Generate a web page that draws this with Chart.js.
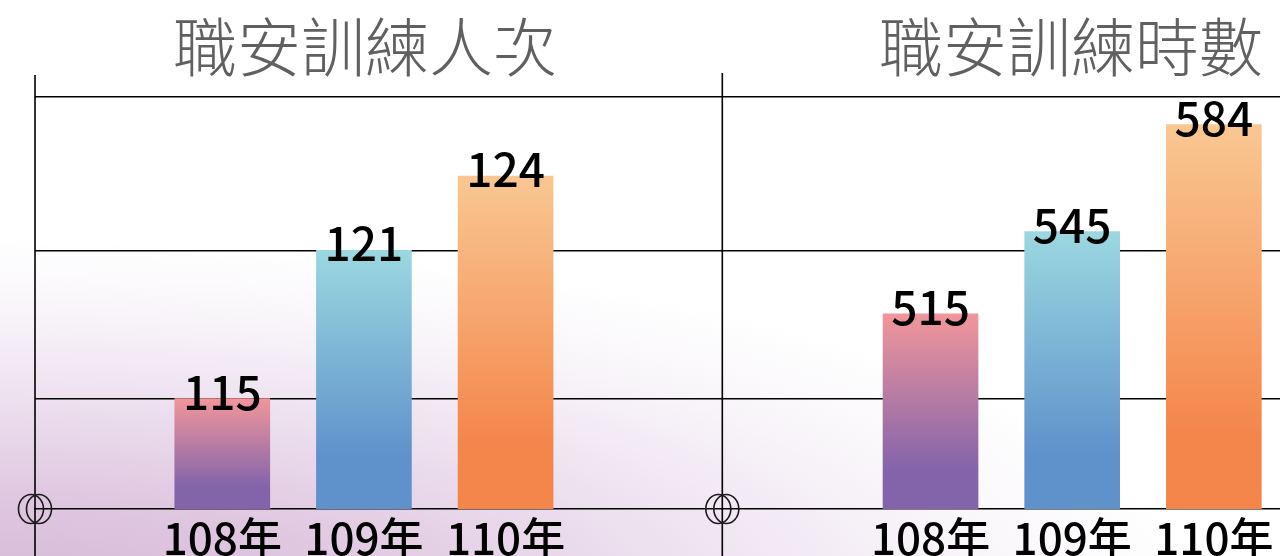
<!DOCTYPE html>
<html lang="zh-Hant">
<head>
<meta charset="utf-8">
<script src="https://cdn.jsdelivr.net/npm/chart.js@4.4.1/dist/chart.umd.min.js"></script>
<style>
  html, body { margin: 0; padding: 0; }
  body {
    width: 1280px;
    height: 556px;
    overflow: hidden;
    position: relative;
    background:
      radial-gradient(ellipse 1200px 360px at 0px 600px, #d6b8d6 0%, #e0c8e1 30%, #eee2f0 58%, #f9f6fa 82%, rgba(255, 255, 255, 0) 100%),
      #ffffff;
    font-family: "Noto Sans CJK TC", "Noto Sans", sans-serif;
  }
  .title {
    position: absolute;
    top: 11px;
    width: 600px;
    text-align: center;
    font-size: 64px;
    line-height: 64px;
    font-weight: 300;
    color: #606060;
    white-space: nowrap;
  }
  #chartWrap { position: absolute; left: 0; top: 0; width: 1280px; height: 600px; }
</style>
</head>
<body>
<div class="title" id="titleLeft" style="left:65px"></div>
<div class="title" id="titleRight" style="left:771px"></div>
<div id="chartWrap"><canvas id="trainingChart" width="1280" height="600"></canvas></div>

<script>
const titles = ["職安訓練人次", "職安訓練時數"];
const categories = ["108年", "109年", "110年"];
const traineeCounts = [115, 121, 124];
const trainingHours = [515, 545, 584];

// slot positions on the shared x axis (left group / right group)
const leftSlots = [0, 1, 2];
const rightSlots = [5, 6, 7];
const dividerSlot = 3.53;

// horizontal rules, in left-axis units
const ruleValues = [115, 121, 127.2];

const barColors = [
  ["#f1969b", "#8364aa"],
  ["#9bd8e0", "#5f91cb"],
  ["#f9c792", "#f4864c"]
];

const labelFont = '"Noto Sans CJK TC", "Noto Sans", sans-serif';

document.getElementById("titleLeft").textContent = titles[0];
document.getElementById("titleRight").textContent = titles[1];

function barGradient(context) {
  const chart = context.chart;
  const pair = barColors[context.dataIndex] || barColors[0];
  if (!chart.chartArea || context.type !== "data") return pair[1];
  const ds = chart.data.datasets[context.datasetIndex];
  const scale = chart.scales[ds.yAxisID];
  const top = scale.getPixelForValue(context.raw.y);
  const bottom = scale.getPixelForValue(scale.min);
  if (!isFinite(top) || !isFinite(bottom) || bottom - top < 1) return pair[1];
  const gradient = chart.ctx.createLinearGradient(0, top, 0, bottom);
  gradient.addColorStop(0, pair[0]);
  gradient.addColorStop(0.8, pair[1]);
  gradient.addColorStop(1, pair[1]);
  return gradient;
}

function slotLabel(value) {
  let i = leftSlots.indexOf(value);
  if (i < 0) i = rightSlots.indexOf(value);
  return i < 0 ? "" : categories[i];
}

const valueLabels = {
  id: "valueLabels",
  afterDatasetsDraw(chart) {
    const ctx = chart.ctx;
    ctx.save();
    ctx.font = "500 46px " + labelFont;
    ctx.fillStyle = "#000";
    ctx.textAlign = "center";
    ctx.textBaseline = "alphabetic";
    chart.data.datasets.forEach((ds, di) => {
      chart.getDatasetMeta(di).data.forEach((bar, i) => {
        ctx.fillText(String(ds.data[i].y), bar.x, bar.y + 11);
      });
    });
    ctx.restore();
  }
};

const axisDecor = {
  id: "axisDecor",
  afterDraw(chart) {
    const ctx = chart.ctx;
    const area = chart.chartArea;
    const xs = [area.left, chart.scales.x.getPixelForValue(dividerSlot)];
    const tops = [75, 73];
    ctx.save();
    ctx.strokeStyle = "#000";
    ctx.lineWidth = 1.6;
    xs.forEach((x, k) => {
      ctx.beginPath();
      ctx.moveTo(x, tops[k]);
      ctx.lineTo(x, chart.height);
      ctx.stroke();
    });
    ctx.strokeStyle = "#1a1a1a";
    ctx.lineWidth = 1.6;
    xs.forEach((x) => {
      [-4, 4].forEach((dx) => {
        ctx.beginPath();
        ctx.ellipse(x + dx, area.bottom, 12.5, 14.5, 0, 0, Math.PI * 2);
        ctx.stroke();
      });
    });
    ctx.restore();
  }
};

new Chart(document.getElementById("trainingChart"), {
  type: "bar",
  data: {
    datasets: [
      {
        label: titles[0],
        data: traineeCounts.map((v, i) => ({ x: leftSlots[i], y: v })),
        yAxisID: "y",
        backgroundColor: barGradient,
        borderWidth: 0,
        barThickness: 95,
        grouped: false
      },
      {
        label: titles[1],
        data: trainingHours.map((v, i) => ({ x: rightSlots[i], y: v })),
        yAxisID: "y2",
        backgroundColor: barGradient,
        borderWidth: 0,
        barThickness: 95,
        grouped: false
      }
    ]
  },
  options: {
    responsive: false,
    animation: false,
    devicePixelRatio: 1,
    layout: { padding: { left: 35, right: 0, top: 97, bottom: 0 } },
    plugins: {
      legend: { display: false },
      tooltip: { enabled: false },
      title: { display: false }
    },
    scales: {
      x: {
        type: "linear",
        min: -1.322,
        max: 7.467,
        offset: false,
        grid: { display: false, drawTicks: false },
        border: { display: true, color: "#000", width: 1.6 },
        afterBuildTicks(scale) {
          scale.ticks = leftSlots.concat(rightSlots).map((v) => ({ value: v }));
        },
        afterFit(scale) { scale.height = 91; },
        ticks: {
          autoSkip: false,
          maxRotation: 0,
          padding: 3,
          color: "#000",
          font: { family: labelFont, size: 44, weight: "500" },
          callback: (value) => slotLabel(value)
        }
      },
      y: {
        min: 110.53,
        max: 127.2,
        grid: { color: "#000", lineWidth: 1.4, drawTicks: false },
        border: { display: false },
        ticks: { display: false },
        afterBuildTicks(scale) {
          scale.ticks = ruleValues.map((v) => ({ value: v }));
        },
        afterFit(scale) { scale.width = 0; }
      },
      y2: {
        display: false,
        min: 443.8,
        max: 594.1
      }
    }
  },
  plugins: [valueLabels, axisDecor]
});
</script>
</body>
</html>
